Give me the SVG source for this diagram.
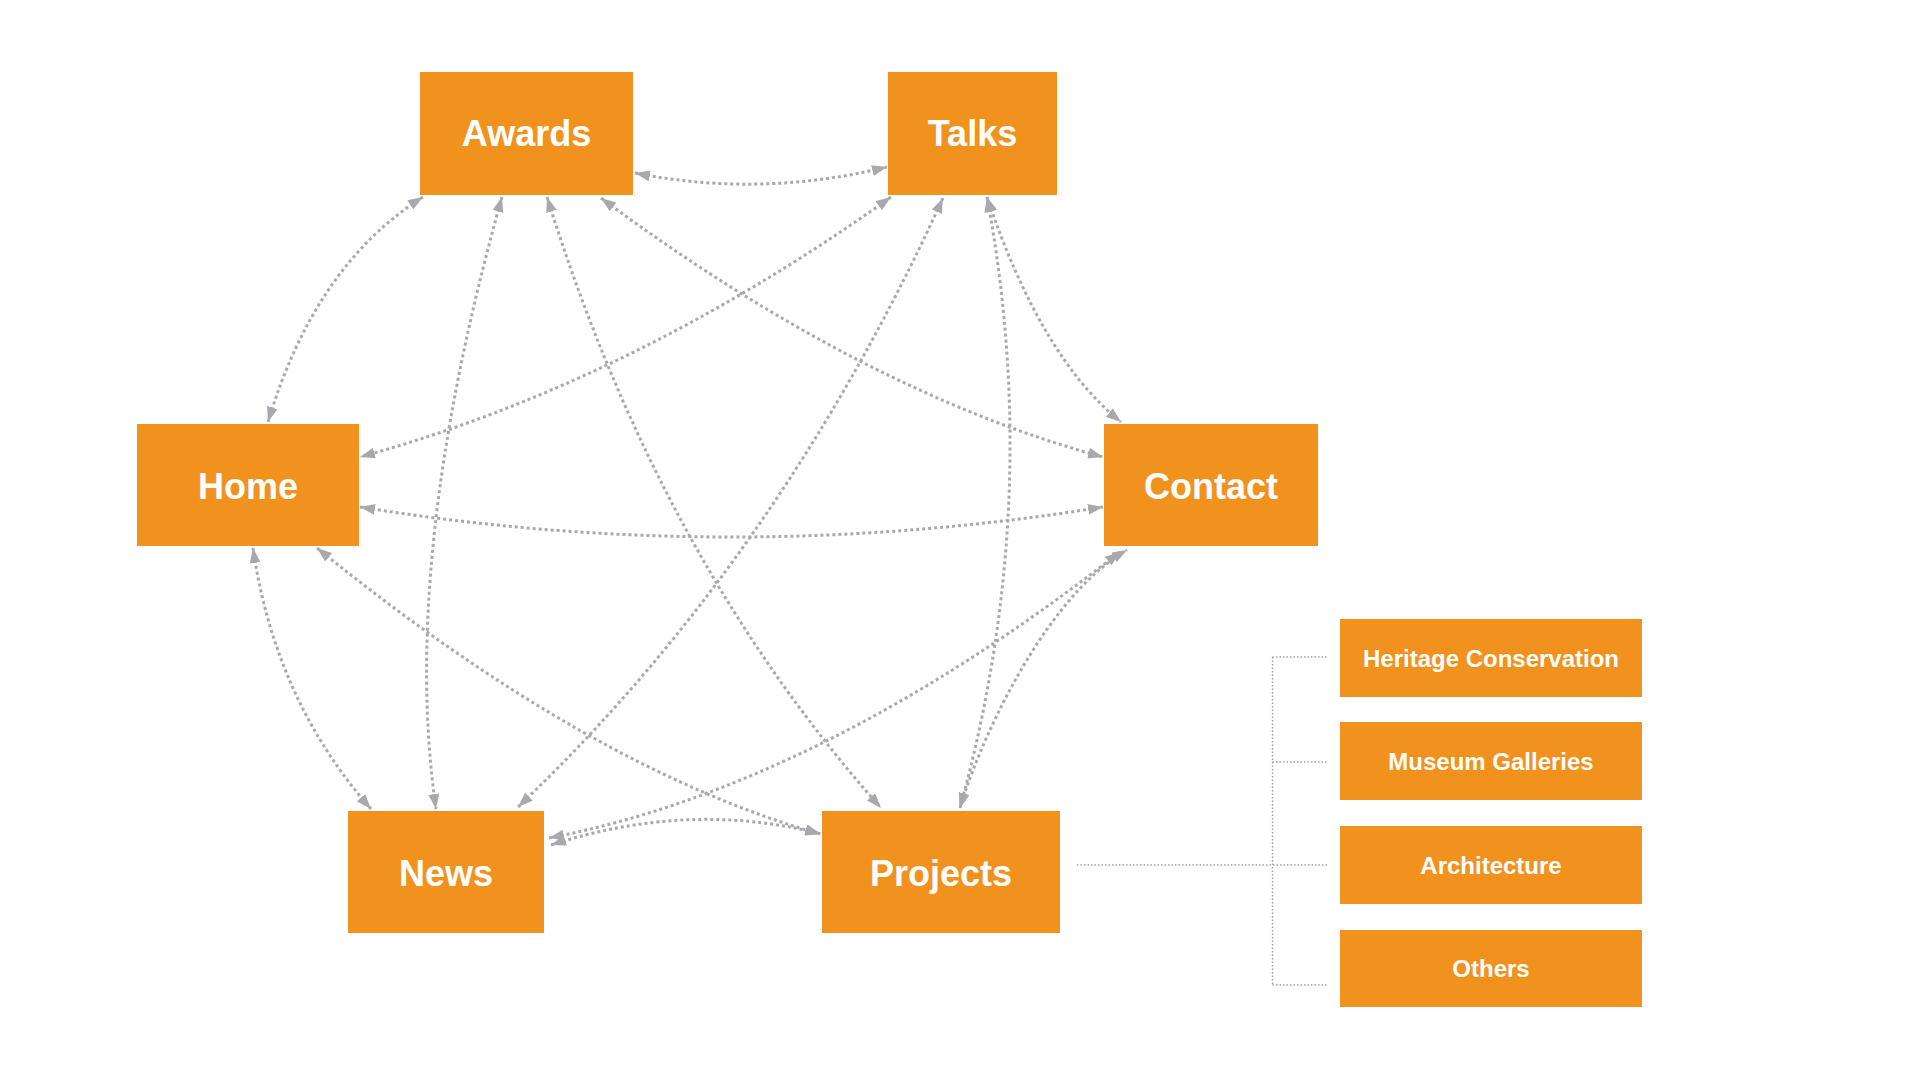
<svg xmlns="http://www.w3.org/2000/svg" width="1920" height="1080" viewBox="0 0 1920 1080">
<style>
.node{fill:#F2921E}
.lbl{font-family:"Liberation Sans",Arial,sans-serif;font-weight:bold;font-size:36px;fill:#FFFFFF;text-anchor:middle}
.sub{font-family:"Liberation Sans",Arial,sans-serif;font-weight:bold;font-size:24px;fill:#FFFFFF;text-anchor:middle}
.c{fill:none;stroke:#A7A9AC;stroke-width:3;stroke-dasharray:3 3;marker-start:url(#ah);marker-end:url(#ah)}
.t{fill:none;stroke:#A0A2A5;stroke-width:1.5;stroke-dasharray:1.5 2}
</style>
<defs>
<marker id="ah" viewBox="0 0 15 11" refX="15" refY="5.5" markerWidth="15" markerHeight="11" markerUnits="userSpaceOnUse" orient="auto-start-reverse">
<path d="M0,0 L15,5.5 L0,11 z" fill="#A7A9AC"/>
</marker>
</defs>
<rect width="1920" height="1080" fill="#FFFFFF"/>
<g id="connectors">
<path class="c" d="M635,173 Q760,198 887,167"/>
<path class="c" d="M423,197 Q315,265 268,422"/>
<path class="c" d="M502,197 Q400,560 436,809"/>
<path class="c" d="M547,197 Q660,560 881,808"/>
<path class="c" d="M601,198 Q863,392 1103,457"/>
<path class="c" d="M891,197 Q630,383 360,457"/>
<path class="c" d="M943,198 Q778,560 518,807"/>
<path class="c" d="M987,197 Q1044,503 960,808"/>
<path class="c" d="M987,197 Q1041,358 1121,422"/>
<path class="c" d="M360,507 Q731,567 1103,507"/>
<path class="c" d="M253,548 Q275,700 371,809"/>
<path class="c" d="M317,548 Q590,769 820,834"/>
<path class="c" d="M549,838 Q820,786 1120,552"/>
<path class="c" d="M551,845 Q690,800 821,834"/>
<path class="c" d="M960,808 C975,755 1040,600 1127,550"/>
<g id="tree">
<path class="t" d="M1077,865 H1327"/>
<path class="t" d="M1272.5,657 V985"/>
<path class="t" d="M1272.5,657 H1327"/>
<path class="t" d="M1272.5,762 H1327"/>
<path class="t" d="M1272.5,985 H1327"/>
</g>
</g>
<g id="awards"><rect class="node" x="420" y="72" width="213" height="123"/><text class="lbl" x="526.5" y="146">Awards</text></g>
<g id="talks"><rect class="node" x="888" y="72" width="169" height="123"/><text class="lbl" x="972.5" y="146">Talks</text></g>
<g id="home"><rect class="node" x="137" y="424" width="222" height="122"/><text class="lbl" x="248" y="499">Home</text></g>
<g id="contact"><rect class="node" x="1104" y="424" width="214" height="122"/><text class="lbl" x="1211" y="499">Contact</text></g>
<g id="news"><rect class="node" x="348" y="811" width="196" height="122"/><text class="lbl" x="446" y="885.5">News</text></g>
<g id="projects"><rect class="node" x="822" y="811" width="238" height="122"/><text class="lbl" x="941" y="885.5">Projects</text></g>
<g id="heritage"><rect class="node" x="1340" y="619" width="302" height="78"/><text class="sub" x="1491" y="666.5">Heritage Conservation</text></g>
<g id="museum"><rect class="node" x="1340" y="722" width="302" height="78"/><text class="sub" x="1491" y="769.5">Museum Galleries</text></g>
<g id="architecture"><rect class="node" x="1340" y="826" width="302" height="78"/><text class="sub" x="1491" y="873.5">Architecture</text></g>
<g id="others"><rect class="node" x="1340" y="930" width="302" height="77"/><text class="sub" x="1491" y="977">Others</text></g>
</svg>
